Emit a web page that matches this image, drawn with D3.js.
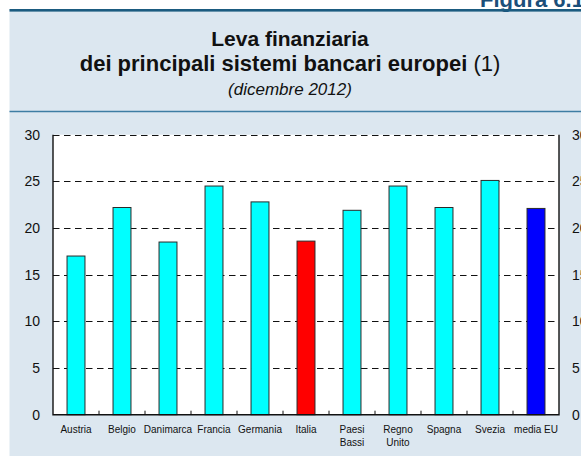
<!DOCTYPE html>
<html>
<head>
<meta charset="utf-8">
<script src="https://cdn.jsdelivr.net/npm/d3@7"></script>
<style>
  html, body { margin: 0; padding: 0; background: #fff; }
  svg { display: block; font-family: "Liberation Sans", Arial, Helvetica, sans-serif; }
</style>
</head>
<body>
<svg id="chart" width="581" height="456"></svg>
<script>
// Leverage of the main European banking systems, December 2012
const categories = ["Austria", "Belgio", "Danimarca", "Francia", "Germania", "Italia",
                    "Paesi\nBassi", "Regno\nUnito", "Spagna", "Svezia", "media EU"];
const leverage = [17.0, 22.2, 18.5, 24.5, 22.8, 18.6, 21.9, 24.5, 22.2, 25.1, 22.1];
const barColors = ["#00FFFF", "#00FFFF", "#00FFFF", "#00FFFF", "#00FFFF", "#FF0000",
                   "#00FFFF", "#00FFFF", "#00FFFF", "#00FFFF", "#0000FF"];
const yTicks = [0, 5, 10, 15, 20, 25, 30];

const svg = d3.select("#chart");
const W = 581, H = 456;

// panel background and header rules
svg.append("rect").attr("x", 9.5).attr("y", 9).attr("width", W - 9.5).attr("height", H - 9)
  .attr("fill", "#DCE7F0");

svg.append("text").attr("x", 480).attr("y", 7)
  .attr("font-size", 22).attr("font-weight", "bold").attr("fill", "#1B4F7A")
  .text("Figura 6.1");

svg.append("rect").attr("x", 9.5).attr("y", 9).attr("width", W - 9.5).attr("height", 2.6)
  .attr("fill", "#1B5B80");
svg.append("line").attr("x1", 9.5).attr("x2", W).attr("y1", 111.5).attr("y2", 111.5)
  .attr("stroke", "#3E7DA3").attr("stroke-width", 1.4);

// titles
const cx = 290;
svg.append("text").attr("x", cx).attr("y", 46).attr("text-anchor", "middle")
  .attr("font-size", 21).attr("font-weight", "bold").attr("fill", "#111")
  .text("Leva finanziaria");
const t2 = svg.append("text").attr("x", cx).attr("y", 71).attr("text-anchor", "middle")
  .attr("font-size", 22).attr("fill", "#111");
t2.append("tspan").attr("font-weight", "bold").text("dei principali sistemi bancari europei");
t2.append("tspan").text(" (1)");
svg.append("text").attr("x", cx).attr("y", 95).attr("text-anchor", "middle")
  .attr("font-size", 17).attr("font-style", "italic").attr("fill", "#111")
  .text("(dicembre 2012)");

// plot area
const plotL = 53, plotR = 559, plotT = 134.7, plotB = 414.7;
const x = d3.scaleBand().domain(categories).range([plotL, plotR]).padding(0);
const y = d3.scaleLinear().domain([0, 30]).range([plotB, plotT]);
const barW = x.bandwidth() * 0.39;

svg.append("rect").attr("x", plotL).attr("y", plotT).attr("width", plotR - plotL)
  .attr("height", plotB - plotT).attr("fill", "#fff");

// dashed gridlines (including the top edge at 30)
svg.append("g").selectAll("line").data(yTicks.filter(v => v > 0)).join("line")
  .attr("x1", plotL).attr("x2", plotR)
  .attr("y1", d => Math.round(y(d)) + 0.5).attr("y2", d => Math.round(y(d)) + 0.5)
  .attr("stroke", "#111").attr("stroke-width", 1).attr("stroke-dasharray", "6.5,4.5");

// bars
svg.append("g").selectAll("rect").data(categories).join("rect")
  .attr("x", d => x(d) + (x.bandwidth() - barW) / 2)
  .attr("y", (d, i) => y(leverage[i]))
  .attr("width", barW)
  .attr("height", (d, i) => plotB - y(leverage[i]))
  .attr("fill", (d, i) => barColors[i])
  .attr("stroke", "#2a2a2a").attr("stroke-width", 1);

// frame: left, bottom, right solid
svg.append("path")
  .attr("d", `M${plotL},${plotT}V${plotB}H${plotR}V${plotT}`)
  .attr("fill", "none").attr("stroke", "#111").attr("stroke-width", 1.4);

// small inner ticks between categories on the x axis
svg.append("g").selectAll("line").data(categories.slice(1)).join("line")
  .attr("x1", d => x(d)).attr("x2", d => x(d))
  .attr("y1", plotB).attr("y2", plotB - 4)
  .attr("stroke", "#111").attr("stroke-width", 1);

// left y axis labels
const yAxisL = d3.axisLeft(y).tickValues(yTicks).tickSize(0).tickPadding(13);
const gL = svg.append("g").attr("transform", `translate(${plotL},0)`).call(yAxisL);
gL.select(".domain").remove();
gL.selectAll("text").attr("font-size", 14).attr("fill", "#111")
  .attr("font-family", "'Liberation Sans', Arial, sans-serif");

// right y axis labels
const yAxisR = d3.axisRight(y).tickValues(yTicks).tickSize(0).tickPadding(13);
const gR = svg.append("g").attr("transform", `translate(${plotR},0)`).call(yAxisR);
gR.select(".domain").remove();
gR.selectAll("text").attr("font-size", 14).attr("fill", "#111")
  .attr("font-family", "'Liberation Sans', Arial, sans-serif");

// category labels
const lab = svg.append("g").selectAll("text").data(categories).join("text")
  .attr("x", d => x(d) + x.bandwidth() / 2)
  .attr("y", 433)
  .attr("text-anchor", "middle").attr("font-size", 10).attr("fill", "#111");
lab.each(function(d) {
  const lines = d.split("\n");
  const t = d3.select(this);
  lines.forEach((ln, i) => {
    t.append("tspan").attr("x", x(d) + x.bandwidth() / 2).attr("dy", i === 0 ? 0 : 13).text(ln);
  });
});
</script>
</body>
</html>
